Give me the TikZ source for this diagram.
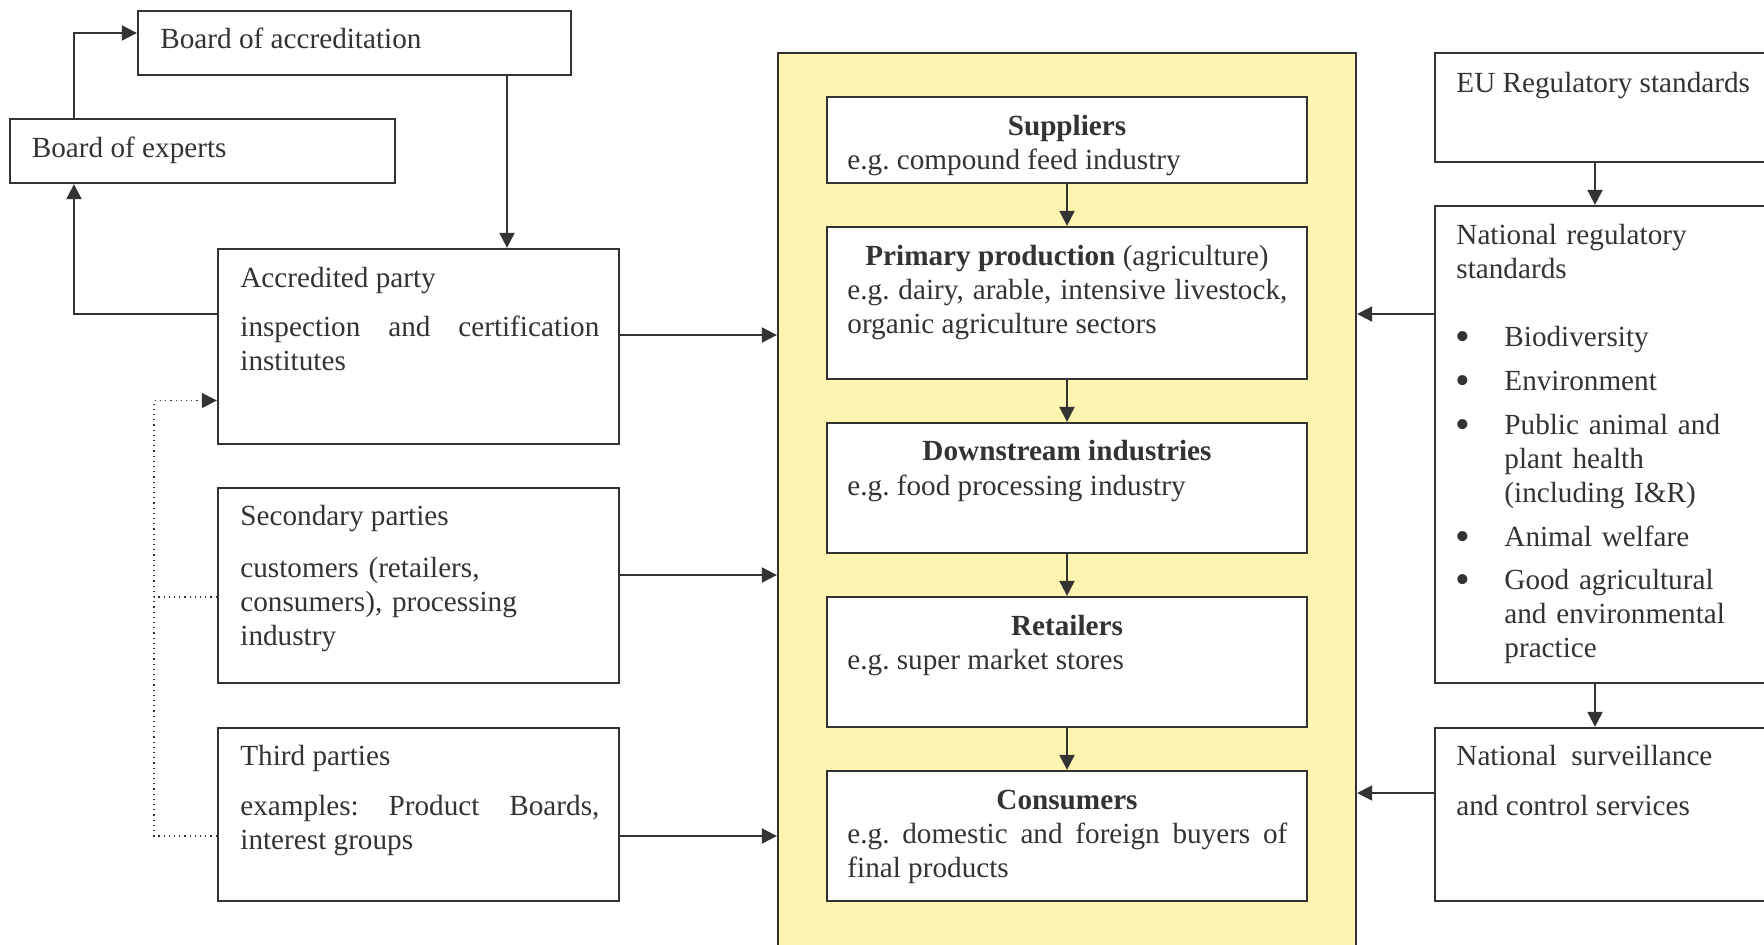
\documentclass[tikz,border=0pt]{standalone}
\usepackage{fontspec}
\setmainfont{Liberation Serif}
\usetikzlibrary{arrows.meta,fit}
\definecolor{ink}{HTML}{333333}
\definecolor{pale}{HTML}{FFF5B0}
\newcommand\dgfont{\fontsize{14.6pt}{16.9pt}\selectfont\frenchspacing}
\hyphenpenalty=10000
\exhyphenpenalty=10000
\tolerance=9999
\frenchspacing
\begin{document}
\begin{tikzpicture}[x=0.5pt,y=-0.5pt,
  box/.style={draw=ink, line width=1.15pt, fill=white, inner sep=0pt},
  chainbox/.style={draw=ink, line width=1.15pt, fill=pale, inner sep=0pt},
  txt/.style={anchor=base west, inner sep=0pt, text=ink, font=\dgfont, yshift=-1.2pt},
  ctitle/.style={anchor=base, inner sep=0pt, text=ink, font=\dgfont\bfseries, yshift=-1.2pt},
  para/.style={txt, text width=#1, align=justify},
  lines/.style={txt, text width=#1, align=left},
  dot/.style={anchor=base, inner sep=0pt, text=ink, font=\fontsize{21pt}{21pt}\selectfont, yshift=-3pt},
  arr/.style={draw=ink, line width=1pt, -{Triangle[length=7.5pt,width=7.5pt]}},
  dots/.style={draw=ink, line width=0.6pt, dotted},
  dotarr/.style={dots, -{Triangle[length=7.5pt,width=7.5pt]}}
]
\useasboundingbox (0,0) rectangle (1764,944);
\clip (0,0) rectangle (1764,944);

% helper coordinates
\coordinate (x74) at (74,0);
\coordinate (x154) at (154,0);
\coordinate (x507) at (507,0);
\coordinate (x1595) at (1595,0);
\coordinate (y33) at (0,33);
\coordinate (y314) at (0,314);
\coordinate (y335) at (0,335);
\coordinate (y400) at (0,400.5);
\coordinate (y575) at (0,575);
\coordinate (y597) at (0,597);
\coordinate (y793) at (0,793);
\coordinate (y836) at (0,836);

% left boxes
\node[box, fit={(138,11) (571,75)}] (boa) {};
\node[box, fit={(10,119) (395,183)}] (boe) {};
\node[box, fit={(218,249) (619,444)}] (accp) {};
\node[box, fit={(218,488) (619,683)}] (sec) {};
\node[box, fit={(218,728) (619,901)}] (third) {};

\node[txt] (tboa) at (160,46) {Board of accreditation};
\node[txt] (tboe) at (31.5,155) {Board of experts};
\node[txt] (taccp) at (240,285) {Accredited party};
\node[para=179.5pt] (baccp) at (240,334) {inspection and certification institutes};
\node[txt] (tsec) at (240,523) {Secondary parties};
\node[lines=179.5pt] (bsec) at (240,575) {customers (retailers,\\consumers), processing\\industry};
\node[txt] (tthird) at (240,763) {Third parties};
\node[para=179.5pt] (bthird) at (240,813) {examples: Product Boards, interest groups};

% central chain
\node[chainbox, fit={(778,53) (1356,990)}] (chain) {};
\node[box, fit={(827,97) (1307,183)}] (sup) {};
\node[box, fit={(827,227) (1307,379)}] (prim) {};
\node[box, fit={(827,423) (1307,553)}] (down) {};
\node[box, fit={(827,597) (1307,727)}] (ret) {};
\node[box, fit={(827,771) (1307,901)}] (cons) {};

\node[ctitle] (tsup) at (1067,133) {Suppliers};
\node[para=220pt] (bsup) at (847,167) {e.g. compound feed industry};
\node[ctitle] (tprim) at (1067,263) {Primary production \mdseries(agriculture)};
\node[para=220pt] (bprim) at (847,297) {e.g. dairy, arable, intensive livestock, organic agriculture sectors};
\node[ctitle] (tdown) at (1067,458) {Downstream industries};
\node[para=220pt] (bdown) at (847,493) {e.g. food processing industry};
\node[ctitle] (tret) at (1067,633) {Retailers};
\node[para=220pt] (bret) at (847,667) {e.g. super market stores};
\node[ctitle] (tcons) at (1067,807) {Consumers};
\node[para=220pt] (bcons) at (847,841) {e.g. domestic and foreign buyers of final products};

% right boxes
\node[box, fit={(1435,53) (1790,162)}] (eu) {};
\node[box, fit={(1435,206) (1790,683)}] (nat) {};
\node[box, fit={(1435,728) (1790,901)}] (surv) {};

\node[txt] (teu) at (1456,90) {EU Regulatory standards};
\node[lines=140pt] (tnat) at (1456,242) {National regulatory\\standards};
\node[dot] (d1) at (1462.5,344.5) {•};
\node[lines=112pt] (i1) at (1504,344.5) {Biodiversity};
\node[dot] (d2) at (1462.5,388) {•};
\node[lines=112pt] (i2) at (1504,388) {Environment};
\node[dot] (d3) at (1462.5,432) {•};
\node[lines=112pt] (i3) at (1504,432) {Public animal and\\plant health\\(including I\&R)};
\node[dot] (d4) at (1462.5,544) {•};
\node[lines=112pt] (i4) at (1504,544) {Animal welfare};
\node[dot] (d5) at (1462.5,587.5) {•};
\node[lines=112pt] (i5) at (1504,587.5) {\makebox[108pt][s]{Good agricultural}\\and environmental\\practice};
\node[txt] (tsurv1) at (1456,763) {\makebox[128pt][s]{National surveillance}};
\node[txt] (tsurv2) at (1456,813) {and control services};

% connectors, left
\draw[arr] (x74 |- boe.north) |- (boa.west |- y33);
\draw[arr] (x507 |- boa.south) -- (x507 |- accp.north);
\draw[arr] (accp.west |- y314) -| (x74 |- boe.south);
\draw[arr] (accp.east |- y335) -- (chain.west |- y335);
\draw[arr] (sec.east |- y575) -- (chain.west |- y575);
\draw[arr] (third.east |- y836) -- (chain.west |- y836);
\draw[dotarr] (third.west |- y836) -| (x154 |- y400) -- (accp.west |- y400);
\draw[dots] (sec.west |- y597) -- (x154 |- y597);

% connectors, chain
\draw[arr] (sup.south) -- (prim.north);
\draw[arr] (prim.south) -- (down.north);
\draw[arr] (down.south) -- (ret.north);
\draw[arr] (ret.south) -- (cons.north);

% connectors, right
\draw[arr] (x1595 |- eu.south) -- (x1595 |- nat.north);
\draw[arr] (x1595 |- nat.south) -- (x1595 |- surv.north);
\draw[arr] (nat.west |- y314) -- (chain.east |- y314);
\draw[arr] (surv.west |- y793) -- (chain.east |- y793);
\end{tikzpicture}
\end{document}
